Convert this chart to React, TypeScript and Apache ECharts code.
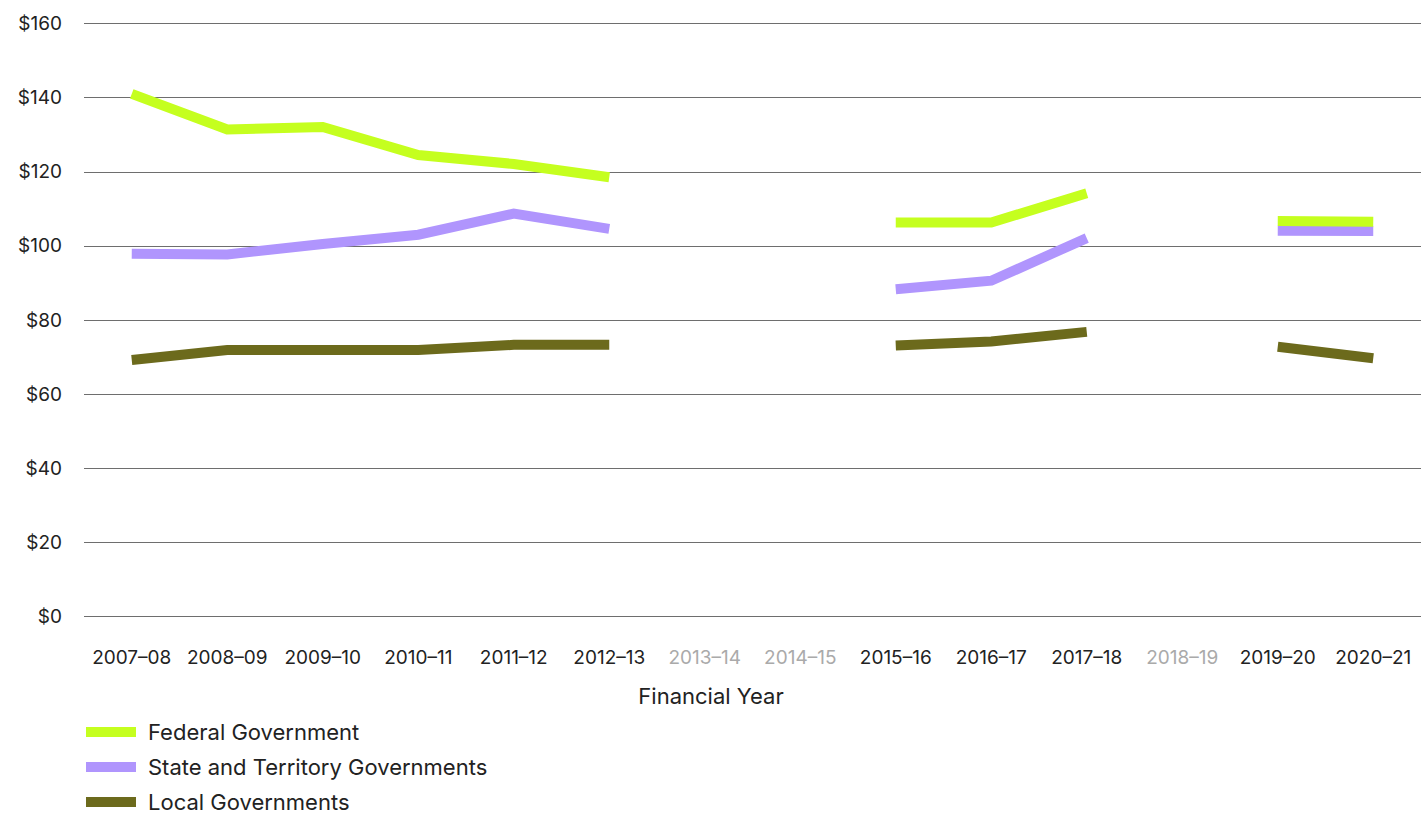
import React, { useEffect, useRef } from "react";
import * as echarts from "echarts";

const categories = [
  "2007–08", "2008–09", "2009–10", "2010–11", "2011–12", "2012–13", "2013–14",
  "2014–15", "2015–16", "2016–17", "2017–18", "2018–19", "2019–20", "2020–21",
];
const missingYears = ["2013–14", "2014–15", "2018–19"];

const federal = [141.0, 131.4, 132.1, 124.5, 122.1, 118.5, null, null, 106.3, 106.3, 114.2, null, 106.7, 106.5];
const stateTerritory = [97.9, 97.7, 100.5, 103.0, 108.7, 104.6, null, null, 88.3, 90.6, 102.1, null, 104.1, 104.0];
const local = [69.2, 71.9, 71.9, 71.9, 73.3, 73.3, null, null, 73.1, 74.2, 76.8, null, 72.8, 69.7];

const yTicks = [0, 20, 40, 60, 80, 100, 120, 140, 160];
const xTitle = "Financial Year";

const FONT = "Inter, 'Noto Sans', sans-serif";

export default function App() {
  const ref = useRef<HTMLDivElement>(null);
  useEffect(() => {
    if (!ref.current) return;
    const chart = echarts.init(ref.current, undefined, { renderer: "svg" });
    const mkSeries = (name: string, data: (number | null)[], color: string, z: number) => ({
      name,
      type: "line",
      data,
      z,
      symbol: "none",
      showSymbol: false,
      connectNulls: false,
      lineStyle: { color, width: 10, cap: "butt", join: "miter" },
      itemStyle: { color },
    });
    chart.setOption({
      animation: false,
      textStyle: { fontFamily: FONT },
      grid: { left: 84, right: -4, top: 23.5, bottom: 198.5, containLabel: false },
      legend: {
        orient: "vertical",
        left: 86,
        top: 721,
        padding: 0,
        icon: "rect",
        itemWidth: 50,
        itemHeight: 10,
        itemGap: 13,
        data: ["Federal Government", "State and Territory Governments", "Local Governments"],
        textStyle: { fontFamily: FONT, fontSize: 22, color: "#222", padding: [0, 0, 0, 7] },
      },
      graphic: [
        {
          type: "text",
          x: 711,
          y: 696,
          style: {
            text: xTitle,
            fontFamily: FONT,
            fontSize: 22,
            fill: "#222",
            align: "center",
            verticalAlign: "middle",
          },
        },
      ],
      xAxis: {
        type: "category",
        data: categories,
        boundaryGap: true,
        axisLine: { show: false },
        axisTick: { show: false },
        axisLabel: {
          fontFamily: FONT,
          fontSize: 19,
          margin: 31,
          interval: 0,
          color: (v: string) => (missingYears.includes(v) ? "#aaaaaa" : "#222222"),
        },
      },
      yAxis: {
        type: "value",
        min: 0,
        max: 160,
        interval: 20,
        axisLine: { show: false },
        axisTick: { show: false },
        splitLine: { show: true, lineStyle: { color: "#6e6e6e", width: 1 } },
        axisLabel: {
          fontFamily: FONT,
          fontSize: 19,
          color: "#222",
          margin: 22,
          formatter: (v: number) => (yTicks.includes(v) ? "$" + v : ""),
        },
      },
      series: [
        mkSeries("Federal Government", federal, "#c5ff1f", 4),
        mkSeries("State and Territory Governments", stateTerritory, "#b095fd", 3),
        mkSeries("Local Governments", local, "#6c6a1c", 2),
      ],
    });
    return () => chart.dispose();
  }, []);
  return <div ref={ref} style={{ width: 1421, height: 815, position: "absolute", left: 0, top: 0 }} />;
}
